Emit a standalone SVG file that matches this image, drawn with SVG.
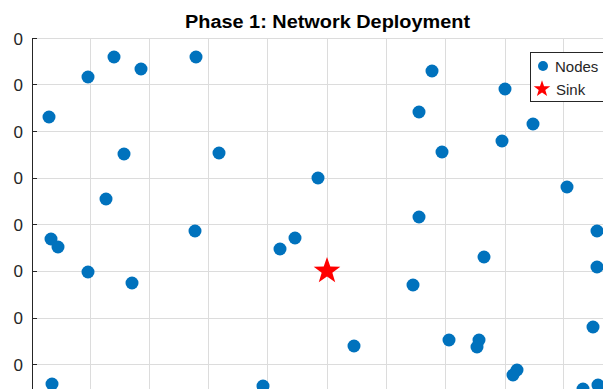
<svg xmlns="http://www.w3.org/2000/svg" width="603" height="389" viewBox="0 0 603 389">
<style>
.grid{stroke:#dcdcdc;stroke-width:1;fill:none}
.axis{stroke:#262626;stroke-width:1;fill:none}
.tick{font-family:"Liberation Sans",Arial,sans-serif;font-size:17px;fill:#262626}
.node{fill:#0072BD}
.sink{fill:#FF0000}
.title{font-family:"Liberation Sans",Arial,sans-serif;font-size:18px;font-weight:bold;fill:#000}
.leg{font-family:"Liberation Sans",Arial,sans-serif;font-size:15px;fill:#262626}
</style>
<defs>
<polygon id="star" points="0,-14 3.29,-4.53 13.31,-4.33 5.33,1.73 8.23,11.33 0,5.6 -8.23,11.33 -5.33,1.73 -13.31,-4.33 -3.29,-4.53"/>
</defs>
<rect width="603" height="389" fill="#fff"/>
<text class="title" x="327.5" y="28" text-anchor="middle" textLength="285" lengthAdjust="spacingAndGlyphs">Phase 1: Network Deployment</text>
<g id="grid">
<path class="grid" d="M32,38.5H603M32,84.5H603M32,131.5H603M32,178.5H603M32,224.5H603M32,271.5H603M32,318.5H603M32,364.5H603"/>
<path class="grid" d="M90.5,38V389M149.5,38V389M208.5,38V389M267.5,38V389M327.5,38V389M386.5,38V389M445.5,38V389M505.5,38V389M563.5,38V389"/>
</g>
<g id="axis">
<path class="axis" d="M32.5,38V389"/>
<path class="axis" d="M32,38.5H37M32,84.5H37M32,131.5H37M32,178.5H37M32,224.5H37M32,271.5H37M32,318.5H37M32,364.5H37"/>
<g class="tick" text-anchor="end">
<text x="23" y="45">0</text>
<text x="23" y="91">0</text>
<text x="23" y="138">0</text>
<text x="23" y="184">0</text>
<text x="23" y="231">0</text>
<text x="23" y="277">0</text>
<text x="23" y="324">0</text>
<text x="23" y="371">0</text>
</g>
</g>
<g id="nodes" class="node">
<circle cx="49" cy="117" r="6.5"/>
<circle cx="88" cy="77" r="6.5"/>
<circle cx="114" cy="57" r="6.5"/>
<circle cx="141" cy="69" r="6.5"/>
<circle cx="196" cy="57" r="6.5"/>
<circle cx="124" cy="154" r="6.5"/>
<circle cx="219" cy="153" r="6.5"/>
<circle cx="106" cy="199" r="6.5"/>
<circle cx="51" cy="239" r="6.5"/>
<circle cx="58" cy="247" r="6.5"/>
<circle cx="195" cy="231" r="6.5"/>
<circle cx="88" cy="272" r="6.5"/>
<circle cx="132" cy="283" r="6.5"/>
<circle cx="52" cy="384" r="6.5"/>
<circle cx="263" cy="386" r="6.5"/>
<circle cx="280" cy="249" r="6.5"/>
<circle cx="295" cy="238" r="6.5"/>
<circle cx="318" cy="178" r="6.5"/>
<circle cx="354" cy="346" r="6.5"/>
<circle cx="413" cy="285" r="6.5"/>
<circle cx="419" cy="217" r="6.5"/>
<circle cx="419" cy="112" r="6.5"/>
<circle cx="432" cy="71" r="6.5"/>
<circle cx="442" cy="152" r="6.5"/>
<circle cx="449" cy="340" r="6.5"/>
<circle cx="479" cy="340" r="6.5"/>
<circle cx="477" cy="347" r="6.5"/>
<circle cx="484" cy="257" r="6.5"/>
<circle cx="502" cy="141" r="6.5"/>
<circle cx="505" cy="89" r="6.5"/>
<circle cx="533" cy="124" r="6.5"/>
<circle cx="567" cy="187" r="6.5"/>
<circle cx="597" cy="231" r="6.5"/>
<circle cx="597" cy="267" r="6.5"/>
<circle cx="593" cy="327" r="6.5"/>
<circle cx="517" cy="370" r="6.5"/>
<circle cx="513" cy="375" r="6.5"/>
<circle cx="583" cy="389" r="6.5"/>
<circle cx="598" cy="385" r="6.5"/>
</g>
<g id="sink">
<use href="#star" class="sink" transform="translate(327,271)"/>
</g>
<g id="legend">
<rect x="530.5" y="52.5" width="80" height="49" fill="#fff" stroke="#262626" stroke-width="1"/>
<circle class="node" cx="543" cy="66" r="5"/>
<use href="#star" class="sink" transform="translate(542,89) scale(0.62)"/>
<text class="leg" x="555" y="72">Nodes</text>
<text class="leg" x="556" y="95">Sink</text>
</g>
</svg>
